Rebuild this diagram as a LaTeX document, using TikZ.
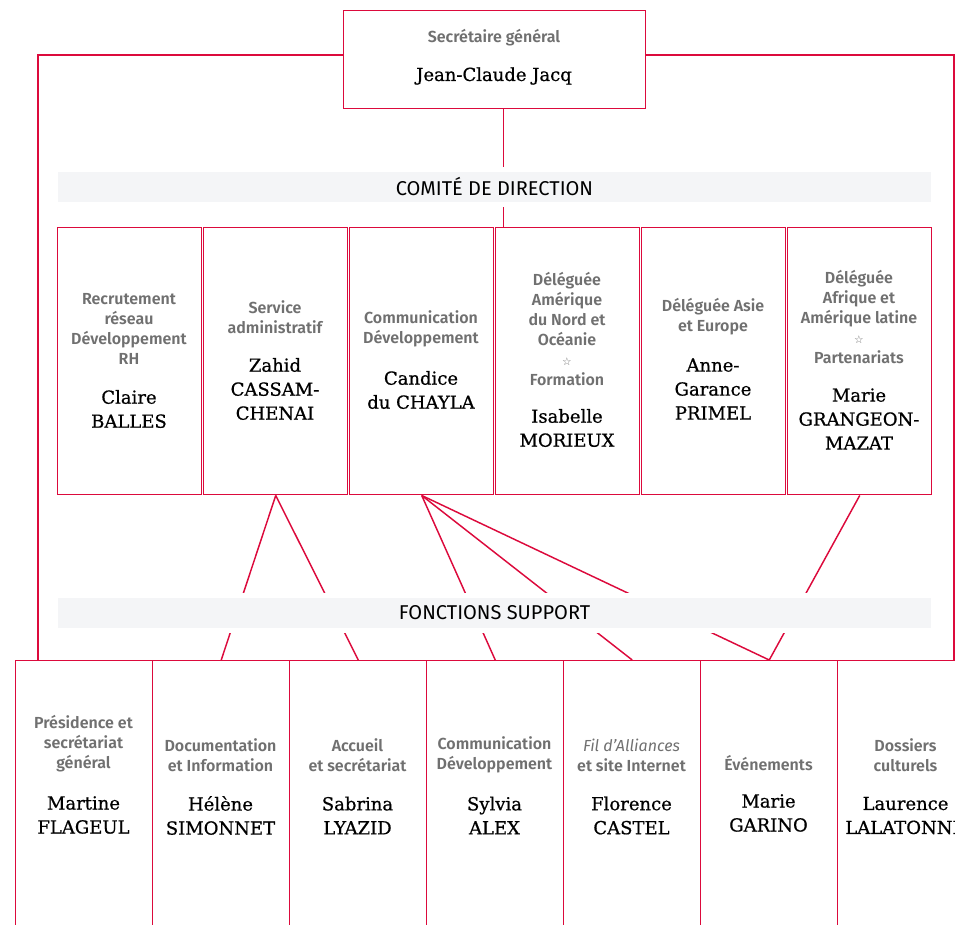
\documentclass[tikz,border=0pt]{standalone}
\usepackage{fontspec}
\setmainfont{DejaVu Serif}[FakeBold=0.7]
\setsansfont{Fira Sans}[BoldFont={Fira Sans SemiBold}]
\newfontfamily\symfont{DejaVu Sans}
\usepackage{xcolor}
\usepackage{tikz}
\usetikzlibrary{positioning, calc}

\definecolor{orgred}{HTML}{DC0A3C}
\definecolor{rolegray}{HTML}{707070}
\definecolor{bandgray}{HTML}{F4F5F7}
\newcommand{\starmark}{{\symfont\mdseries\fontsize{8}{8}\selectfont ☆}}

\begin{document}
\begin{tikzpicture}[x=0.75pt, y=-0.75pt,
  box/.style={draw=orgred, line width=1.1pt, anchor=north west, inner sep=0pt},
  link/.style={draw=orgred, line width=1.1pt},
  band/.style={fill=bandgray, draw=white, line width=3.75pt, minimum width=658.5pt, minimum height=26.25pt, inner sep=0pt, font=\sffamily\fontsize{15}{17}\selectfont},
  role/.style={text=rolegray, font=\sffamily\bfseries\fontsize{12}{15}\selectfont, align=center, inner sep=0pt},
  person/.style={font=\fontsize{13.5}{18}\selectfont, align=center, inner sep=0pt}]
\useasboundingbox (0,0) rectangle (955,924);
\clip (0,0) rectangle (955,924);
% Secretaire general
\node[box, minimum width=226.5pt, minimum height=73.5pt] (sg) at (343,10) {};
\node[role] (sg-role) at (494,38) {Secrétaire général};
\node[person] (sg-name) at (494,76) {Jean-Claude Jacq};
% Comite de direction boxes
\node[box, minimum width=108pt, minimum height=200.25pt] (rh) at (57,227) {};
\node[box, minimum width=108pt, minimum height=200.25pt] (admin) at (203,227) {};
\node[box, minimum width=108pt, minimum height=200.25pt] (comm) at (349,227) {};
\node[box, minimum width=108pt, minimum height=200.25pt] (amn) at (495,227) {};
\node[box, minimum width=108pt, minimum height=200.25pt] (asie) at (641,227) {};
\node[box, minimum width=108pt, minimum height=200.25pt] (afr) at (787,227) {};
% Fonctions support boxes (cut off at the bottom)
\node[box, minimum width=102.75pt, minimum height=240pt] (pres) at (15,660) {};
\node[box, minimum width=102.75pt, minimum height=240pt] (doc) at (152,660) {};
\node[box, minimum width=102.75pt, minimum height=240pt] (accueil) at (289,660) {};
\node[box, minimum width=102.75pt, minimum height=240pt] (comdev) at (426,660) {};
\node[box, minimum width=102.75pt, minimum height=240pt] (fil) at (563,660) {};
\node[box, minimum width=102.75pt, minimum height=240pt] (evt) at (700,660) {};
\node[box, minimum width=102.75pt, minimum height=240pt] (dossiers) at (837,660) {};
% Outer frame
\draw[link] (sg.west |- 0,55) -- (38,55) -- (pres.north -| 38,0);
\draw[link] (sg.east |- 0,55) -- (954,55) -- (dossiers.north -| 954,0);
% Links
\coordinate (sgfoot) at ($(sg.south)+(9,0)$);
\draw[link] (sgfoot) -- (sgfoot |- amn.north);
\draw[link] (admin.south) -- (doc.north);
\draw[link] (admin.south) -- (accueil.north);
\draw[link] (comm.south) -- (comdev.north);
\draw[link] (comm.south) -- (fil.north);
\draw[link] (comm.south) -- (evt.north);
\draw[link] (afr.south) -- (evt.north);
% Bands (white edge hides the links)
\node[band] (codir) at (494.5,187) {COMITÉ DE DIRECTION};
\node[band] (fsup) at (494.5,613) {FONCTIONS SUPPORT};
% Comite texts
\node[role] (rh-role) at (129,329) {Recrutement\\réseau\\Développement\\RH};
\node[person] (rh-name) at (129,409) {Claire\\BALLES};
\node[role] (admin-role) at (275,317) {Service\\administratif};
\node[person] (admin-name) at (275,389) {Zahid\\CASSAM-\\CHENAI};
\node[role] (comm-role) at (421,329) {Communication\\Développement};
\node[person] (comm-name) at (421,390) {Candice\\du CHAYLA};
\node[role] (amn-role) at (567,329) {Déléguée\\Amérique\\du Nord et\\Océanie\\\starmark\\Formation};
\node[person] (amn-name) at (567,428) {Isabelle\\MORIEUX};
\node[role] (asie-role) at (713,317) {Déléguée Asie\\et Europe};
\node[person] (asie-name) at (713,389) {Anne-\\Garance\\PRIMEL};
\node[role] (afr-role) at (859,317) {Déléguée\\Afrique et\\Amérique latine\\\starmark\\Partenariats};
\node[person] (afr-name) at (859,419) {Marie\\GRANGEON-\\MAZAT};
% Fonctions support texts
\node[role] (pres-role) at (83.5,744) {Présidence et\\secrétariat\\général};
\node[person] (pres-name) at (83.5,815) {Martine\\FLAGEUL};
\node[role] (doc-role) at (220.5,755) {Documentation\\et Information};
\node[person] (doc-name) at (220.5,815.5) {Hélène\\SIMONNET};
\node[role] (accueil-role) at (357.5,755) {Accueil\\et secrétariat};
\node[person] (accueil-name) at (357.5,815.5) {Sabrina\\LYAZID};
\node[role] (comdev-role) at (494.5,755) {Communication\\Développement};
\node[person] (comdev-name) at (494.5,815.5) {Sylvia\\ALEX};
\node[role] (fil-role) at (631.5,755) {{\mdseries\itshape Fil d’Alliances}\\et site Internet};
\node[person] (fil-name) at (631.5,815.5) {Florence\\CASTEL};
\node[role] (evt-role) at (768.5,763) {Événements};
\node[person] (evt-name) at (768.5,813) {Marie\\GARINO};
\node[role] (dossiers-role) at (905.5,755) {Dossiers\\culturels};
\node[person] (dossiers-name) at (905.5,815.5) {Laurence\\LALATONNE};
\end{tikzpicture}
\end{document}
